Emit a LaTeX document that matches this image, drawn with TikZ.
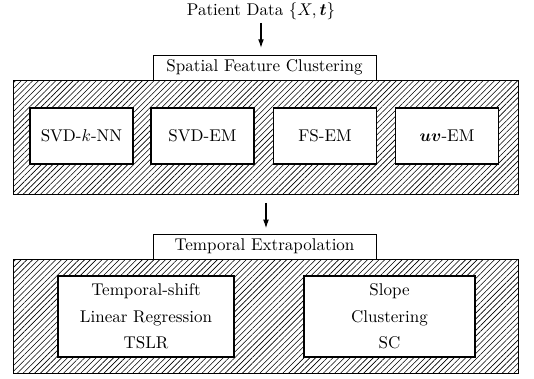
\documentclass[tikz,border=0pt]{standalone}
\usepackage{amsmath}
\usetikzlibrary{arrows.meta,positioning,calc,patterns.meta}
\newcommand{\px}{0.588pt}
\tikzset{
  hatchbox/.style={draw,line width=0.45pt,
    pattern={Lines[angle=45,distance=2.4pt,line width=0.35pt]},
    minimum width=505*\px,minimum height=114*\px,inner sep=0pt},
  titlebox/.style={draw,line width=0.45pt,fill=white,
    minimum width=223*\px,minimum height=25*\px,inner sep=0pt},
  methodbox/.style={draw,line width=0.65pt,fill=white,inner sep=0pt,align=center},
  flow/.style={-{Latex[length=5pt,width=3.4pt]},line width=0.6pt}
}

\begin{document}
\begin{tikzpicture}[x=\px,y=-\px]
  \useasboundingbox (0,0) rectangle (534,379);
  % input
  \node[anchor=base,inner sep=0pt] (patient) at (261,15) {Patient Data $\{X,\boldsymbol{t}\}$};
  % spatial stage
  \node[hatchbox] (sfcbox) at (266,137) {};
  \node[titlebox] (sfc) at (264.5,67.5) {Spatial Feature Clustering};
  \foreach \name/\x/\txt in {knn/81.5/{SVD-$k$-NN},svdem/202.5/{SVD-EM},
                             fsem/325/{FS-EM},uvem/447/{$\boldsymbol{uv}$-EM}}{%
    \node[methodbox,minimum width=103*\px,minimum height=56*\px] (\name) at (\x,136) {\txt};}
  \draw[flow,shorten <=2pt,shorten >=4pt] (patient.south) -- (patient.south |- sfc.north);
  % temporal stage
  \node[hatchbox] (tebox) at (266,316) {};
  \node[titlebox] (te) at (264.5,246.5) {Temporal Extrapolation};
  \node[methodbox,minimum width=176*\px,minimum height=81*\px] (tslr) at (146,316.5)
       {Temporal-shift\\[3.6pt]Linear Regression\\[3.6pt]TSLR};
  \node[methodbox,minimum width=171*\px,minimum height=81*\px] (sc) at (389.5,316.5)
       {Slope\\[3.6pt]Clustering\\[3.6pt]SC};
  \draw[flow,shorten <=5pt,shorten >=3.2pt] (sfcbox.south) -- (sfcbox.south |- te.north);
\end{tikzpicture}
\end{document}
